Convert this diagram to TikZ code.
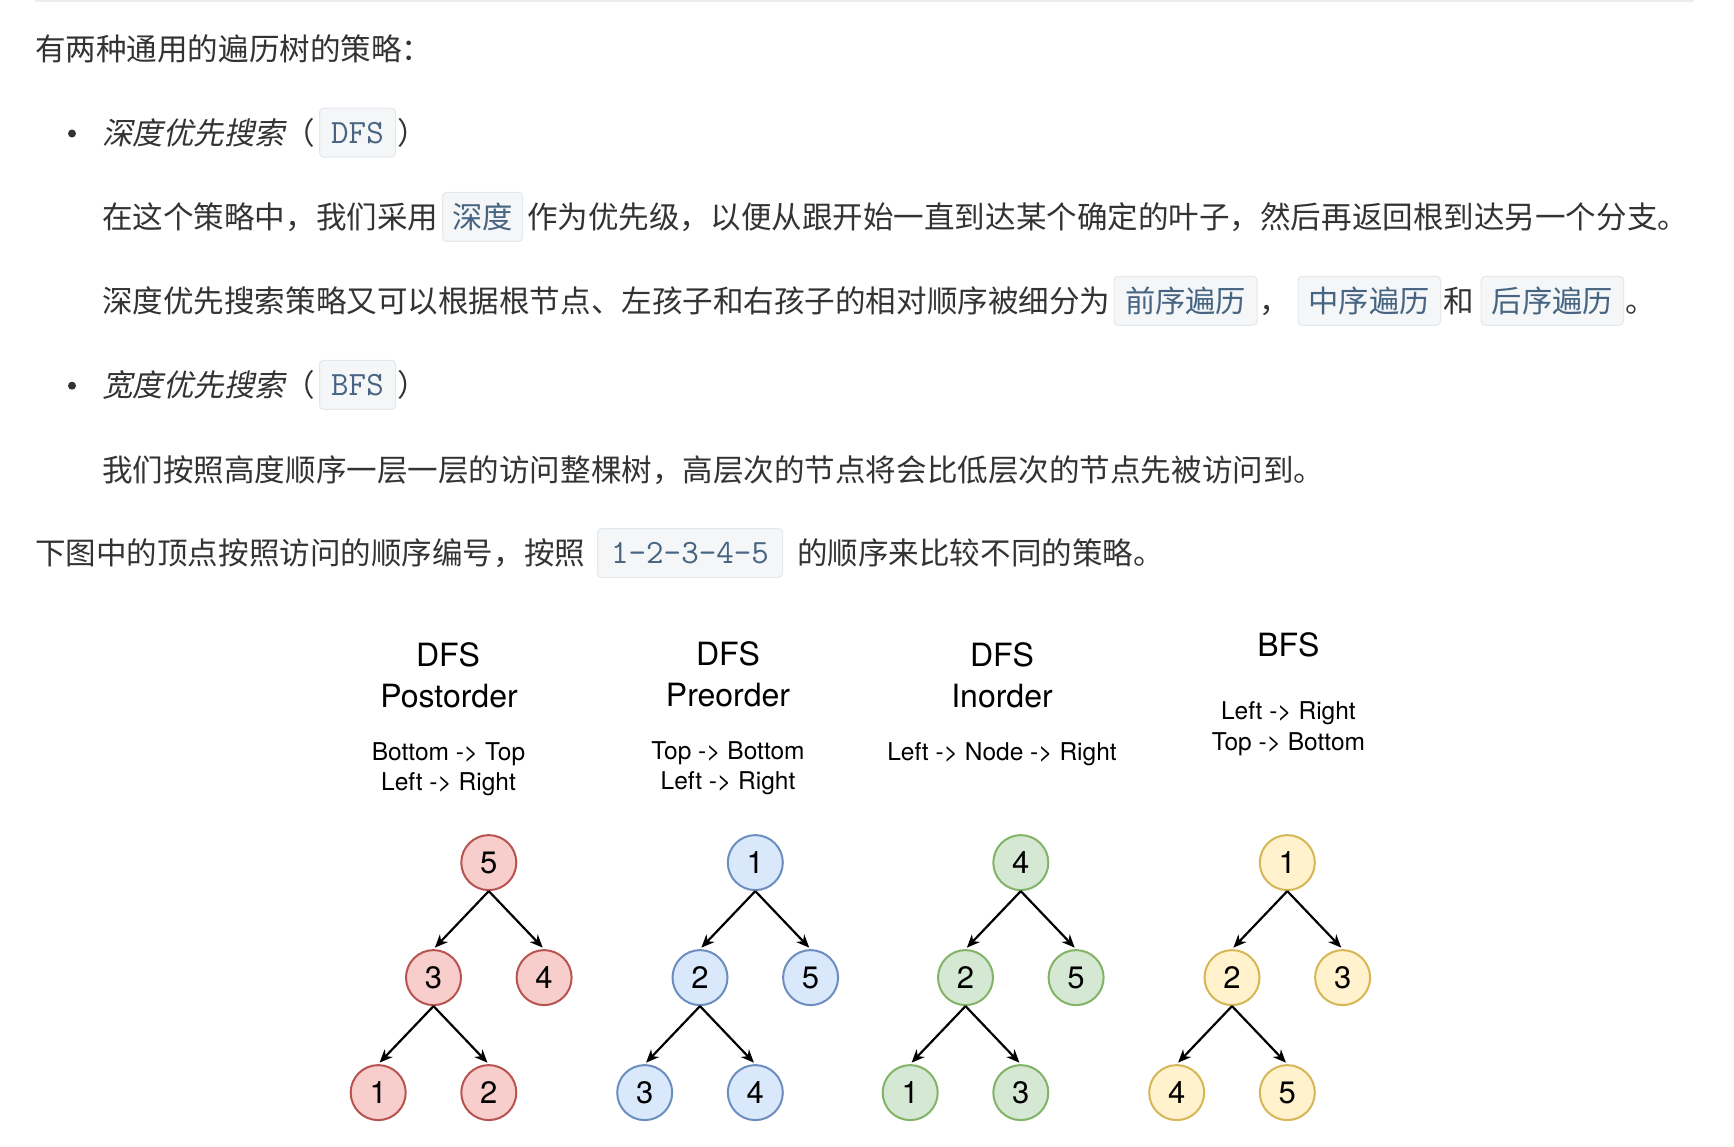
\documentclass[tikz,border=0pt]{standalone}
\usepackage{fontspec}
\setmainfont{TeX Gyre Heros}
\newfontfamily\cjk{Noto Sans CJK SC}
\newfontfamily\cjkit{Noto Sans CJK SC}[FakeSlant=0.2]
\usetikzlibrary{arrows.meta}
\definecolor{txt}{HTML}{333333}
\definecolor{codetxt}{HTML}{476582}
\definecolor{codebg}{HTML}{F4F6F8}
\definecolor{codeln}{HTML}{E4E8EC}
\definecolor{rulecol}{HTML}{EAECEF}
\definecolor{rfill}{HTML}{F8CECC}\definecolor{rline}{HTML}{B85450}
\definecolor{bfill}{HTML}{DAE8FC}\definecolor{bline}{HTML}{6C8EBF}
\definecolor{gfill}{HTML}{D5E8D4}\definecolor{gline}{HTML}{82B366}
\definecolor{yfill}{HTML}{FFF2CC}\definecolor{yline}{HTML}{D6B656}
\tikzset{
  body/.style={anchor=base west, inner sep=0pt, text=txt, font=\cjk\fontsize{30.55}{36}\selectfont},
  bodyit/.style={body, font=\cjkit\fontsize{30.55}{36}\selectfont},
  codebox/.style={anchor=west, inner sep=0pt, minimum height=49pt, rounded corners=4pt, fill=codebg, draw=codeln, line width=1pt, text=codetxt},
  codecjk/.style={codebox, font=\cjk\fontsize{30.3}{36}\selectfont},
  codett/.style={codebox, font=\fontsize{34}{40}\selectfont\ttfamily},
  bulletdot/.style={circle, fill=txt, inner sep=0pt, minimum size=8pt},
  hbig/.style={anchor=base, inner sep=0pt, font=\fontsize{32}{38}\selectfont},
  hsmall/.style={anchor=base, inner sep=0pt, font=\fontsize{24.5}{29}\selectfont},
  tnode/.style={circle, minimum size=55pt, inner sep=0pt, line width=2pt, font=\fontsize{31}{36}\selectfont},
  rnode/.style={tnode, fill=rfill, draw=rline},
  bnode/.style={tnode, fill=bfill, draw=bline},
  gnode/.style={tnode, fill=gfill, draw=gline},
  ynode/.style={tnode, fill=yfill, draw=yline},
  arr/.style={-{Stealth[length=13pt, width=11pt, inset=4pt]}, line width=2.2pt, shorten >=2pt}
}
\newcommand{\travtree}[8]{%
  \node[#3] (#1r) at (#2, 862.6) {#4};
  \node[#3] (#1a) at (#2-55.3, 977.6) {#5};
  \node[#3] (#1b) at (#2+55.3, 977.6) {#6};
  \node[#3] (#1c) at (#2-110.6, 1092.6) {#7};
  \node[#3] (#1d) at (#2, 1092.6) {#8};
  \draw[arr] (#1r.south) -- (#1a.north);
  \draw[arr] (#1r.south) -- (#1b.north);
  \draw[arr] (#1a.south) -- (#1c.north);
  \draw[arr] (#1a.south) -- (#1d.north);
}
\begin{document}
\begin{tikzpicture}[x=1pt, y=-1pt]
\useasboundingbox[fill=white] (0,0) rectangle (1734,1146);
% top rule
\coordinate (ruleL) at (35,1);
\coordinate (ruleR) at (1694,1);
\draw[rulecol, line width=1.8pt] (ruleL) -- (ruleR);

% line 1
\node[body] (l1) at (35,60.2) {有两种通用的遍历树的策略：};

% bullet 1
\node[bulletdot] (bu1) at (72,133.5) {};
\node[bodyit] (b1t) at (102,144.2) {深度优先搜索};
\node[body] (b1p) at (283.8,144.2) {（};
\node[codett, minimum width=76pt] (b1c) at (319,132.7) {DFS};
\node[body] (b1q) at (397,144.2) {）};

% line 2
\node[body] (l2a) at (102,228.3) {在这个策略中，我们采用};
\node[codecjk, minimum width=80pt] (l2c) at (442,216.8) {深度};
\node[body] (l2b) at (527,228.3) {作为优先级，以便从跟开始一直到达某个确定的叶子，然后再返回根到达另一个分支。};

% line 3
\node[body] (l3a) at (102,312.3) {深度优先搜索策略又可以根据根节点、左孩子和右孩子的相对顺序被细分为};
\node[codecjk, minimum width=143pt] (l3c1) at (1113.6,300.8) {前序遍历};
\node[body] (l3b) at (1259,312.3) {，};
\node[codecjk, minimum width=142.5pt] (l3c2) at (1297.5,300.8) {中序遍历};
\node[body] (l3d) at (1443,312.3) {和};
\node[codecjk, minimum width=142.3pt] (l3c3) at (1480.7,300.8) {后序遍历};
\node[body] (l3e) at (1625,312.3) {。};

% bullet 2
\node[bulletdot] (bu2) at (72,385.7) {};
\node[bodyit] (b2t) at (102,396.4) {宽度优先搜索};
\node[body] (b2p) at (283.8,396.4) {（};
\node[codett, minimum width=76pt] (b2c) at (319,384.9) {BFS};
\node[body] (b2q) at (397,396.4) {）};

% line 4
\node[body] (l4) at (102,481.5) {我们按照高度顺序一层一层的访问整棵树，高层次的节点将会比低层次的节点先被访问到。};

% line 5
\node[body] (l5a) at (35,564.5) {下图中的顶点按照访问的顺序编号，按照};
\node[codett, minimum width=185pt] (l5c) at (597,553) {1-2-3-4-5};
\node[body] (l5b) at (797,564.5) {的顺序来比较不同的策略。};

% headings
\node[hbig] (h1a) at (448,666.5) {DFS};
\node[hbig] (h1b) at (449,707.1) {Postorder};
\node[hsmall] (h1c) at (448.5,760.8) {Bottom -> Top};
\node[hsmall] (h1d) at (448.5,790.7) {Left -> Right};

\node[hbig] (h2a) at (728,665.1) {DFS};
\node[hbig] (h2b) at (728,706) {Preorder};
\node[hsmall] (h2c) at (728,759.8) {Top -> Bottom};
\node[hsmall] (h2d) at (728,789.6) {Left -> Right};

\node[hbig] (h3a) at (1002,666.5) {DFS};
\node[hbig] (h3b) at (1002,707.1) {Inorder};
\node[hsmall] (h3c) at (1002,760.8) {Left -> Node -> Right};

\node[hbig] (h4a) at (1288.4,656.2) {BFS};
\node[hsmall] (h4b) at (1288.4,719.8) {Left -> Right};
\node[hsmall] (h4c) at (1288.4,750.8) {Top -> Bottom};

% trees
\travtree{t1}{488.8}{rnode}{5}{3}{4}{1}{2}
\travtree{t2}{755.3}{bnode}{1}{2}{5}{3}{4}
\travtree{t3}{1020.8}{gnode}{4}{2}{5}{1}{3}
\travtree{t4}{1287.3}{ynode}{1}{2}{3}{4}{5}
\end{tikzpicture}
\end{document}
